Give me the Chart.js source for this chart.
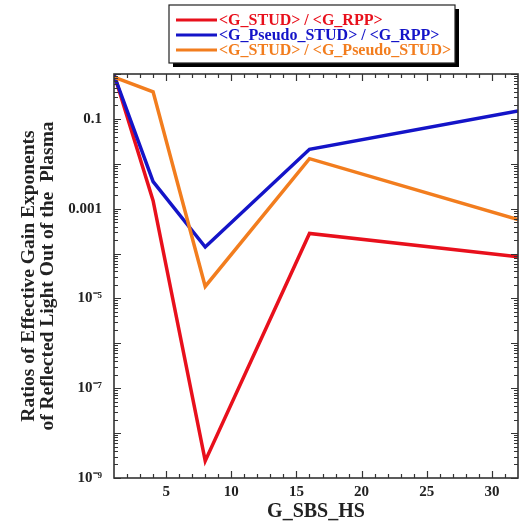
<!DOCTYPE html>
<html>
<head>
<meta charset="utf-8">
<script src="https://cdn.jsdelivr.net/npm/chart.js@4/dist/chart.umd.min.js"></script>
<style>
  html, body { margin: 0; padding: 0; background: #fff; }
  #wrap { width: 525px; height: 521px; position: relative; }
</style>
</head>
<body>
<div id="wrap"><canvas id="ratioChart"></canvas></div>
<script>
// values
const gSbsHs = [1, 4, 8, 16, 32];
const studOverRpp = [1.0, 1.5e-3, 2.4e-9, 2.8e-4, 8.5e-5];
const pseudoOverRpp = [0.95, 4e-3, 1.4e-4, 0.021, 0.15];
const studOverPseudo = [0.85, 0.4, 1.85e-5, 0.013, 5.7e-4];

const seriesLabels = ["<G_STUD> / <G_RPP>", "<G_Pseudo_STUD> / <G_RPP>", "<G_STUD> / <G_Pseudo_STUD>"];
const seriesColors = ["#e8101c", "#1414c8", "#f27d1e"];

const xTicks = [5, 10, 15, 20, 25, 30];
const yTicks = [1e-9, 1e-7, 1e-5, 1e-3, 1e-1];
const yTickLabels = ["10\u207B\u2079", "10\u207B\u2077", "10\u207B\u2075", "0.001", "0.1"];

const serif = "'Liberation Serif', 'Times New Roman', serif";

function toPoints(ys) {
  return gSbsHs.map((x, i) => ({ x: x, y: ys[i] }));
}

// inside ticks on all four sides + frame
const frameTicks = {
  id: "frameTicks",
  afterDatasetsDraw(chart) {
    const { ctx, chartArea: a, scales } = chart;
    const xs = scales.x, ys = scales.y;
    ctx.save();
    ctx.strokeStyle = "#333";
    ctx.lineWidth = 1.2;
    ctx.beginPath();
    for (let v = 2; v <= 31; v++) {
      const px = Math.round(xs.getPixelForValue(v)) + 0.5;
      const len = v % 5 === 0 ? 7 : 4;
      ctx.moveTo(px, a.bottom); ctx.lineTo(px, a.bottom - len);
      ctx.moveTo(px, a.top); ctx.lineTo(px, a.top + len);
    }
    for (let e = -9; e <= 0; e++) {
      for (let m = 1; m <= 9; m++) {
        const v = m * Math.pow(10, e);
        if (v > 1 || (e === 0 && m > 1)) continue;
        const py = Math.round(ys.getPixelForValue(v)) + 0.5;
        const len = m === 1 ? 7 : 4;
        ctx.moveTo(a.left, py); ctx.lineTo(a.left + len, py);
        ctx.moveTo(a.right, py); ctx.lineTo(a.right - len, py);
      }
    }
    ctx.stroke();
    ctx.lineWidth = 1.6;
    ctx.strokeRect(a.left, a.top, a.right - a.left, a.bottom - a.top);
    ctx.restore();
  }
};

// boxed legend with drop shadow
const boxLegend = {
  id: "boxLegend",
  afterDraw(chart) {
    const { ctx } = chart;
    const bx = 169, by = 5, bw = 286, bh = 58;
    ctx.save();
    ctx.fillStyle = "#000";
    ctx.fillRect(bx + 4, by + 4, bw, bh);
    ctx.fillStyle = "#fff";
    ctx.fillRect(bx, by, bw, bh);
    ctx.strokeStyle = "#222";
    ctx.lineWidth = 1.2;
    ctx.strokeRect(bx, by, bw, bh);
    ctx.font = "bold 16px " + serif;
    ctx.textBaseline = "middle";
    chart.data.datasets.forEach((ds, i) => {
      const y = by + 15 + i * 15;
      ctx.strokeStyle = ds.borderColor;
      ctx.lineWidth = 3;
      ctx.beginPath();
      ctx.moveTo(bx + 7, y); ctx.lineTo(bx + 48, y);
      ctx.stroke();
      ctx.fillStyle = ds.borderColor;
      ctx.fillText(ds.label, bx + 50, y + 1);
    });
    ctx.restore();
  }
};

new Chart(document.getElementById("ratioChart"), {
  type: "line",
  data: {
    datasets: [
      { label: seriesLabels[0], data: toPoints(studOverRpp), borderColor: seriesColors[0], order: 3 },
      { label: seriesLabels[1], data: toPoints(pseudoOverRpp), borderColor: seriesColors[1], order: 2 },
      { label: seriesLabels[2], data: toPoints(studOverPseudo), borderColor: seriesColors[2], order: 1 }
    ]
  },
  options: {
    responsive: true,
    maintainAspectRatio: false,
    animation: false,
    layout: { padding: { top: 74, right: 7, left: 0, bottom: 0 } },
    elements: {
      line: { borderWidth: 3.5, tension: 0, borderJoinStyle: "miter" },
      point: { radius: 0 }
    },
    plugins: {
      legend: { display: false },
      tooltip: { enabled: false }
    },
    scales: {
      x: {
        type: "linear",
        min: 1,
        max: 32,
        afterBuildTicks(scale) { scale.ticks = xTicks.map(v => ({ value: v })); },
        afterFit(scale) { scale.height = 43; },
        grid: { display: false },
        border: { display: false },
        ticks: {
          color: "#222",
          font: { family: serif, size: 15, weight: "bold" },
          padding: -3,
          maxRotation: 0
        },
        title: {
          display: true,
          text: "G_SBS_HS",
          color: "#222",
          font: { family: serif, size: 20, weight: "bold" },
          padding: { top: 0, bottom: -3 }
        }
      },
      y: {
        type: "logarithmic",
        min: 1e-9,
        max: 1,
        afterBuildTicks(scale) { scale.ticks = yTicks.map(v => ({ value: v })); },
        afterFit(scale) { scale.width = 114; },
        grid: { display: false },
        border: { display: false },
        ticks: {
          color: "#222",
          font: { family: serif, size: 15, weight: "bold" },
          padding: 4,
          callback(value) {
            const i = yTicks.findIndex(t => Math.abs(Math.log10(t) - Math.log10(value)) < 1e-6);
            return i >= 0 ? yTickLabels[i] : "";
          }
        },
        title: {
          display: true,
          text: ["Ratios of Effective Gain Exponents", "of Reflected Light Out of the  Plasma"],
          color: "#222",
          font: { family: serif, size: 19.5, weight: "bold", lineHeight: 0.95 },
          padding: { top: 20, bottom: 0 }
        }
      }
    }
  },
  plugins: [frameTicks, boxLegend]
});
</script>
</body>
</html>
